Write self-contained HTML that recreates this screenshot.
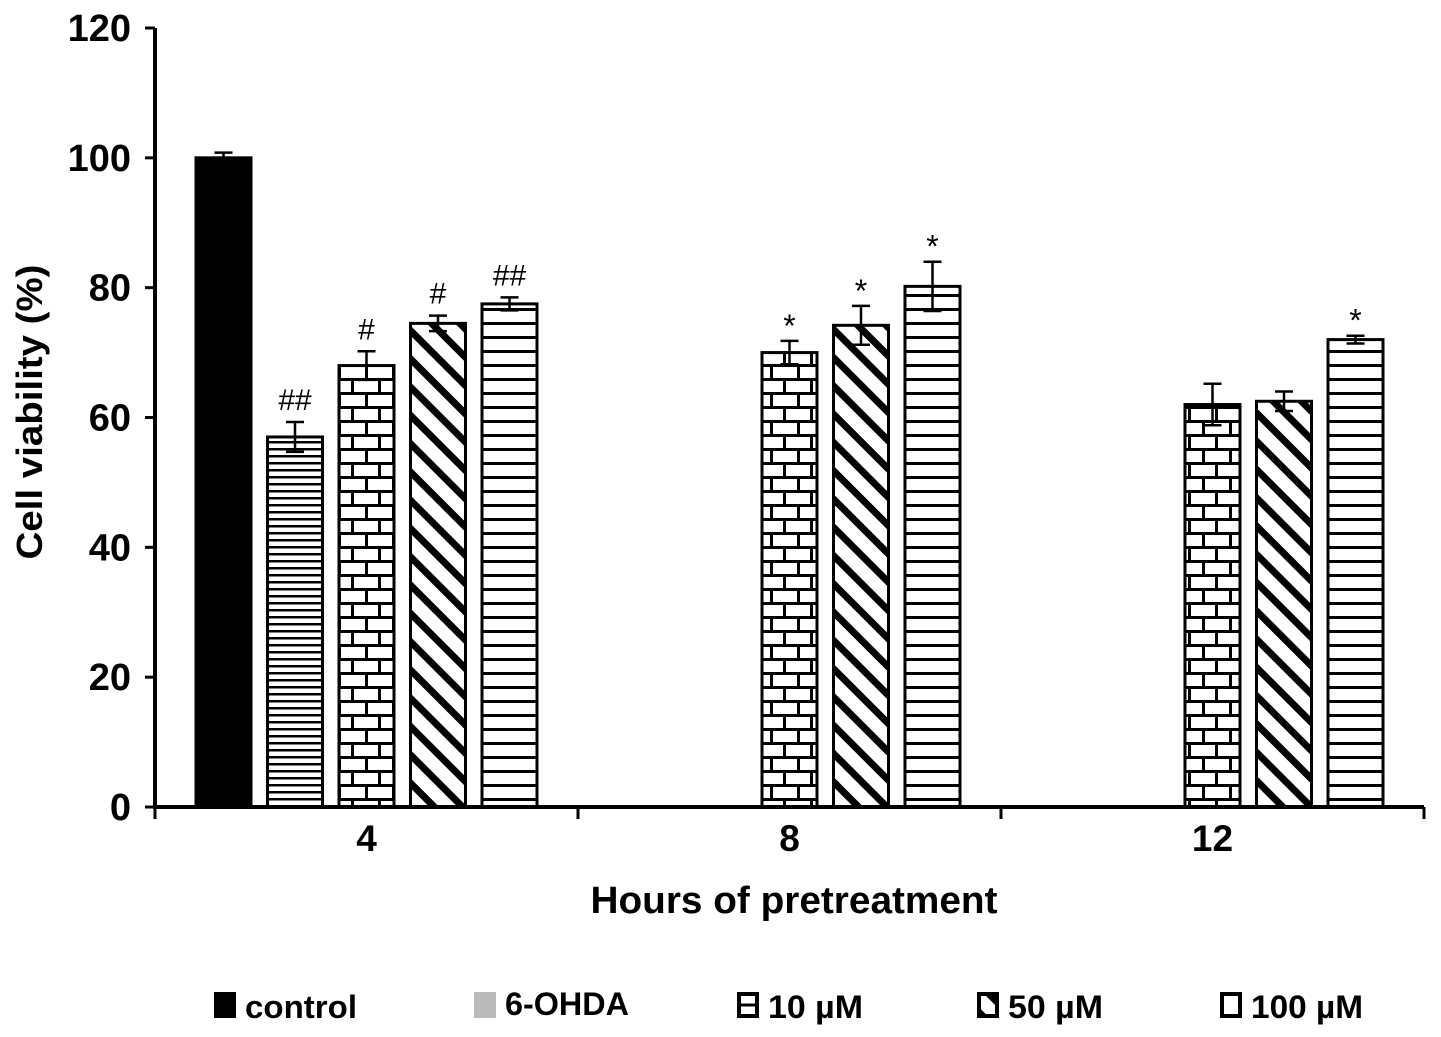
<!DOCTYPE html>
<html><head><meta charset="utf-8"><style>
html,body{margin:0;padding:0;background:#fff;}
svg{display:block;font-family:"Liberation Sans",Arial,sans-serif;font-weight:bold;}
</style></head><body>
<svg id="chart" width="1441" height="1037" viewBox="0 0 1441 1037">
<defs>
<pattern id="p-ohda" patternUnits="userSpaceOnUse" width="10" height="7"><rect width="10" height="7" fill="#fff"/><rect y="0" width="10" height="2.5" fill="#000"/></pattern>
<pattern id="p-brick" patternUnits="userSpaceOnUse" width="27" height="28" x="338" y="0"><rect width="27" height="28" fill="#fff"/><rect y="0" width="27" height="3" fill="#000"/><rect y="14" width="27" height="3" fill="#000"/><rect x="0" y="0" width="3" height="14" fill="#000"/><rect x="13" y="14" width="3" height="14" fill="#000"/></pattern>
<pattern id="p-diag" patternUnits="userSpaceOnUse" width="20" height="20" patternTransform="rotate(45)"><rect width="20" height="20" fill="#fff"/><rect width="20" height="7" fill="#000"/></pattern>
<pattern id="p-hline" patternUnits="userSpaceOnUse" width="10" height="14"><rect width="10" height="14" fill="#fff"/><rect y="0" width="10" height="3" fill="#000"/></pattern>
</defs>
<g id="plot"></g>
<text x="794" y="913" font-size="38" text-anchor="middle" textLength="407" lengthAdjust="spacingAndGlyphs">Hours of pretreatment</text>
<text transform="translate(42,412) rotate(-90)" font-size="36" text-anchor="middle" textLength="295" lengthAdjust="spacingAndGlyphs">Cell viability (%)</text>
<g id="legend" font-size="32"></g>
</svg>
<script>
const groups = ["4","8","12"];
const seriesNames = ["control","6-OHDA","10 µM","50 µM","100 µM"];
const seriesFills = ["#000","url(#p-ohda)","url(#p-brick)","url(#p-diag)","url(#p-hline)"];
const controlVals = [100, null, null];
const ohdaVals = [57, null, null];
const v10 = [68, 70, 62];
const v50 = [74.5, 74.2, 62.5];
const v100 = [77.5, 80.2, 72];
const controlErr = [0.8, null, null];
const ohdaErr = [2.3, null, null];
const e10 = [2.2, 1.8, 3.2];
const e50 = [1.2, 3, 1.5];
const e100 = [1, 3.8, 0.6];
const l10 = ["#","*",""];
const l50 = ["#","*",""];
const l100 = ["##","*","*"];
const lControl = ["",null,null];
const lOhda = ["##",null,null];
const yTicks = [0,20,40,60,80,100,120];

const NS="http://www.w3.org/2000/svg";
const plot=document.getElementById('plot');
const x0=155,x1=1424,y0=807,yTop=28;
const y=v=>y0-(v/120)*(y0-yTop);
const gw=(x1-x0)/groups.length;
const gx=i=>x0+gw*(i+0.5);
const slot=71.5,bw=55;
function mk(tag,attrs,parent){const e=document.createElementNS(NS,tag);for(const k in attrs)e.setAttribute(k,attrs[k]);(parent||plot).appendChild(e);return e;}
const vals=[controlVals,ohdaVals,v10,v50,v100];
const errs=[controlErr,ohdaErr,e10,e50,e100];
const labs=[lControl,lOhda,l10,l50,l100];
for(let s=0;s<5;s++){for(let g=0;g<groups.length;g++){
 const v=vals[s][g]; if(v==null) continue;
 const cx=gx(g)+(s-2)*slot;
 const r=mk('rect',{x:cx-bw/2,y:y(v),width:bw,height:y0-y(v),fill:seriesFills[s],stroke:'#000','stroke-width':3});
 
 
 const e=errs[s][g];
 const ep=mk('path',{d:`M${cx},${y(v-e)}V${y(v+e)}M${cx-9},${y(v+e)}H${cx+9}M${cx-9},${y(v-e)}H${cx+9}`,stroke:'#000','stroke-width':2.5,fill:'none'});
 
 
 const L=labs[s][g];
 if(L){const t=mk('text',{x:cx,y:y(v+e)-(L=="*"?4:12),'text-anchor':'middle','font-size':L=="*"?32:30,'font-weight':'normal','font-family':'"Liberation Sans",sans-serif'});t.textContent=L;
 
 }
}}
const ya=mk('line',{x1:x0,y1:y0+2,x2:x0,y2:yTop,stroke:'#000','stroke-width':4});


const xa=mk('line',{x1:x0-2,y1:y0,x2:x1,y2:y0,stroke:'#000','stroke-width':4});


yTicks.forEach(t=>{mk('line',{x1:x0-10,x2:x0,y1:y(t),y2:y(t),stroke:'#000','stroke-width':3});
 const tx=mk('text',{x:x0-24,y:y(t)+13,'text-anchor':'end','font-size':38});tx.textContent=t;
 
 });
for(let i=0;i<=groups.length;i++){mk('line',{x1:x0+gw*i,x2:x0+gw*i,y1:y0,y2:y0+12,stroke:'#000','stroke-width':3});}
groups.forEach((g,i)=>{const t=mk('text',{x:gx(i),y:851,'text-anchor':'middle','font-size':37});t.textContent=g;
 
 });
const leg=document.getElementById('legend');
const legX=[214,474,737,977,1220];
const legW=[112,124,95,95,112];
const legFill=["#000","#bbb","#fff","url(#p-diag)","#fff"];
seriesNames.forEach((n,i)=>{
 const g=mk('g',{},leg);
 
 
 if(i<2) mk('rect',{x:legX[i],y:992,width:22,height:26,fill:legFill[i]},g);
 else {mk('rect',{x:legX[i]+2,y:994,width:18,height:22,fill:legFill[i],stroke:'#000','stroke-width':4},g);
   if(i==2) mk('line',{x1:legX[i]+2,x2:legX[i]+20,y1:1005,y2:1005,stroke:'#000','stroke-width':3},g);}
 const t=mk('text',{x:legX[i]+31,y:(i==1?1015:1018),'font-size':32,textLength:legW[i],lengthAdjust:'spacingAndGlyphs'},g);t.textContent=n;
});
</script>
</body></html>
